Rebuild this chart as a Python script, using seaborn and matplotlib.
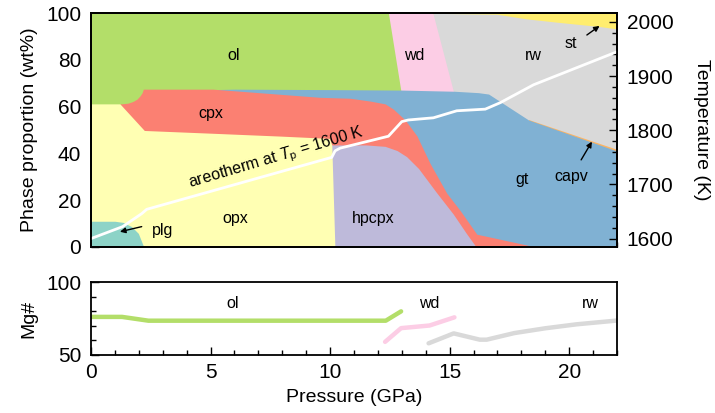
import matplotlib
matplotlib.use("Agg")
import matplotlib.pyplot as plt
from matplotlib.ticker import MultipleLocator
import seaborn as sns
import pandas as pd

# ---- phase fields: upper boundary (cumulative wt%) of each field vs pressure (GPa)
plg_p = [0, 1.0, 1.35, 1.7, 1.98, 2.12, 2.2]
plg_top = [10.9, 10.9, 10.4, 8.6, 5.7, 2.1, 0]

opx_p = [0, 1.21, 2.23, 5.1, 7.9, 9.98, 10.07, 10.2]
opx_top = [61.2, 61.2, 49.8, 48.6, 47.4, 46.4, 43.6, 0]

hpcpx_p = [10.0, 11.5, 12.3, 12.8, 13.2, 13.7, 14.45, 15.15, 15.7, 16.1]
hpcpx_top = [43.6, 43.6, 43.0, 41.2, 38.6, 33.5, 23.2, 14.0, 5.7, 0]

cpx_p = [1.2, 1.28, 1.55, 1.75, 1.92, 2.05, 2.14, 2.19, 5.1, 9.58, 10.84,
         11.67, 12.3, 12.64, 13.14, 13.63, 14.18, 14.88, 15.44, 16.14, 16.3,
         17.2, 18.23, 18.5]
cpx_top = [61.2, 61.2, 61.5, 62.2, 63.2, 64.6, 66.0, 67.5, 67.5, 64.0, 63.6,
           62.4, 61.2, 59.0, 54.3, 47.5, 35.7, 22.9, 15.5, 5.3, 5.0,
           3.0, 0.7, 0]

gt_p = [5.1, 6.0, 10.0, 13.0, 15.2, 16.2, 16.63, 18.3, 22]
gt_top = [67.3, 67.5, 67.3, 67.1, 66.6, 66.0, 65.4, 54.3, 41.0]

capv_p = [18.3, 22]
capv_top = [54.5, 41.7]

ol_p = [0, 12.44, 12.96]
ol_top = [100, 100, 66.8]

wd_p = [12.44, 14.3, 15.16]
wd_top = [100, 100, 66.4]

rw_p = [14.3, 16.97, 18.23, 19.48, 21.3, 22]
rw_top = [100, 99.6, 97.6, 96.2, 94.3, 93.3]

st_p = [14.3, 22]
st_top = [100, 100]

# ---- areotherm (right axis)
areo_p = [0, 1.32, 2.12, 2.33, 10.07, 10.21, 10.42, 12.44, 13.0, 13.27,
          14.32, 15.3, 16.49, 17.12, 18.51, 22]
areo_T = [1600, 1622, 1646, 1654, 1750, 1762, 1767, 1789, 1816, 1819,
          1823, 1836, 1839, 1851, 1884, 1945]

# ---- Mg# of the olivine polymorphs
ol_mg_p = [0, 1.3, 2.4, 12.33, 12.97]
ol_mg = [76.1, 76.1, 73.5, 73.5, 79.9]
wd_mg_p = [12.3, 12.97, 14.16, 15.2]
wd_mg = [59.0, 68.4, 70.2, 75.8]
rw_mg_p = [14.12, 15.17, 16.26, 16.55, 17.7, 19.0, 20.3, 22.0]
rw_mg = [58.0, 64.8, 60.5, 60.5, 65.0, 68.3, 71.0, 73.6]

sns.set_theme(style="ticks")
plt.rcParams["font.family"] = ["Liberation Sans", "DejaVu Sans"]
plt.rcParams["mathtext.fontset"] = "custom"
plt.rcParams["mathtext.rm"] = "Liberation Sans"
plt.rcParams["mathtext.it"] = "Liberation Sans:italic"
plt.rcParams["axes.linewidth"] = 1.3
plt.rcParams["axes.edgecolor"] = "black"
plt.rcParams["xtick.color"] = "black"
plt.rcParams["ytick.color"] = "black"
plt.rcParams["text.color"] = "black"
plt.rcParams["axes.labelcolor"] = "black"

set3 = sns.color_palette("Set3", 12)
col = dict(plg=set3[0], opx=set3[1], hpcpx=set3[2], cpx=set3[3], gt=set3[4],
           capv=set3[5], ol=set3[6], wd=set3[7], rw=set3[8], st=set3[11])

# painted from the uppermost field downwards; each fill runs from 0 to the field top
fields = [("st", st_p, st_top), ("rw", rw_p, rw_top), ("wd", wd_p, wd_top),
          ("ol", ol_p, ol_top), ("capv", capv_p, capv_top), ("gt", gt_p, gt_top),
          ("cpx", cpx_p, cpx_top), ("hpcpx", hpcpx_p, hpcpx_top),
          ("opx", opx_p, opx_top), ("plg", plg_p, plg_top)]

W, H = 715, 413
fig = plt.figure(figsize=(W / 100, H / 100), dpi=100)
ax = fig.add_axes([91 / W, 1 - 246.7 / H, 526 / W, 233.4 / H])
axm = fig.add_axes([91 / W, 1 - 355 / H, 526 / W, 73 / H])

for name, p, top in fields:
    ax.fill_between(p, 0, top, color=col[name], lw=0, zorder=1)

tick_kw = dict(which="both", direction="in", labelsize=15, width=1, pad=7)


def style_ticks(a):
    a.tick_params(**tick_kw)
    a.tick_params(which="major", length=6)
    a.tick_params(which="minor", length=3.5)


ax.set_xlim(0, 22)
ax.set_ylim(0, 100)
ax.set_ylabel("Phase proportion (wt%)", fontsize=14, labelpad=6)
ax.xaxis.set_major_locator(MultipleLocator(5))
ax.xaxis.set_minor_locator(MultipleLocator(1))
ax.yaxis.set_major_locator(MultipleLocator(20))
ax.yaxis.set_minor_locator(MultipleLocator(5))
style_ticks(ax)
ax.tick_params(top=False, right=False, labelbottom=False)

fs = 11.5
ax.text(5.95, 82, "ol", fontsize=fs, ha="center", va="center")
ax.text(5.0, 57, "cpx", fontsize=fs, ha="center", va="center")
ax.text(6.05, 12, "opx", fontsize=fs, ha="center", va="center")
ax.text(3.0, 7, "plg", fontsize=fs, ha="center", va="center")
ax.text(11.8, 12, "hpcpx", fontsize=fs, ha="center", va="center")
ax.text(13.5, 82, "wd", fontsize=fs, ha="center", va="center")
ax.text(18.5, 82, "rw", fontsize=fs, ha="center", va="center")
ax.text(20.07, 87.2, "st", fontsize=fs, ha="center", va="center")
ax.text(18.05, 29, "gt", fontsize=fs, ha="center", va="center")
ax.text(20.1, 30, "capv", fontsize=fs, ha="center", va="center")
ax.text(7.76, 38, r"areotherm at $T_\mathrm{p}$ = 1600 K", fontsize=fs,
        ha="center", va="center", rotation=16.5, rotation_mode="anchor")

arrow = dict(arrowstyle="-|>", color="black", lw=1, mutation_scale=8,
             shrinkA=0, shrinkB=0)
ax.annotate("", xy=(1.21, 6.4), xytext=(2.12, 8.6), arrowprops=arrow)
ax.annotate("", xy=(21.27, 94.6), xytext=(20.74, 90.7), arrowprops=arrow)
ax.annotate("", xy=(20.95, 45.0), xytext=(20.5, 37.2), arrowprops=arrow)

# temperature axis with the areotherm
axt = ax.twinx()
sns.lineplot(x=areo_p, y=areo_T, ax=axt, color="white", lw=2, sort=False)
axt.set_ylim(1585, 2016)
axt.set_ylabel("Temperature (K)", fontsize=14, rotation=270, labelpad=26)
axt.yaxis.set_major_locator(MultipleLocator(100))
axt.yaxis.set_minor_locator(MultipleLocator(20))
style_ticks(axt)
axt.set_xlim(0, 22)

# Mg# panel
for name, p, v in [("ol", ol_mg_p, ol_mg), ("wd", wd_mg_p, wd_mg), ("rw", rw_mg_p, rw_mg)]:
    sns.lineplot(x=p, y=v, ax=axm, color=col[name], lw=3.2, sort=False)
axm.text(5.91, 85, "ol", fontsize=fs, ha="center", va="center")
axm.text(14.16, 85, "wd", fontsize=fs, ha="center", va="center")
axm.text(20.9, 85, "rw", fontsize=fs, ha="center", va="center")
axm.set_xlim(0, 22)
axm.set_ylim(50, 100)
axm.set_xlabel("Pressure (GPa)", fontsize=14, labelpad=5)
axm.set_ylabel("Mg#", fontsize=14, labelpad=6)
axm.xaxis.set_major_locator(MultipleLocator(5))
axm.xaxis.set_minor_locator(MultipleLocator(1))
axm.yaxis.set_major_locator(MultipleLocator(50))
axm.yaxis.set_minor_locator(MultipleLocator(10))
style_ticks(axm)
axm.tick_params(axis="x", pad=6)

fig.savefig("out.png", dpi=100)
